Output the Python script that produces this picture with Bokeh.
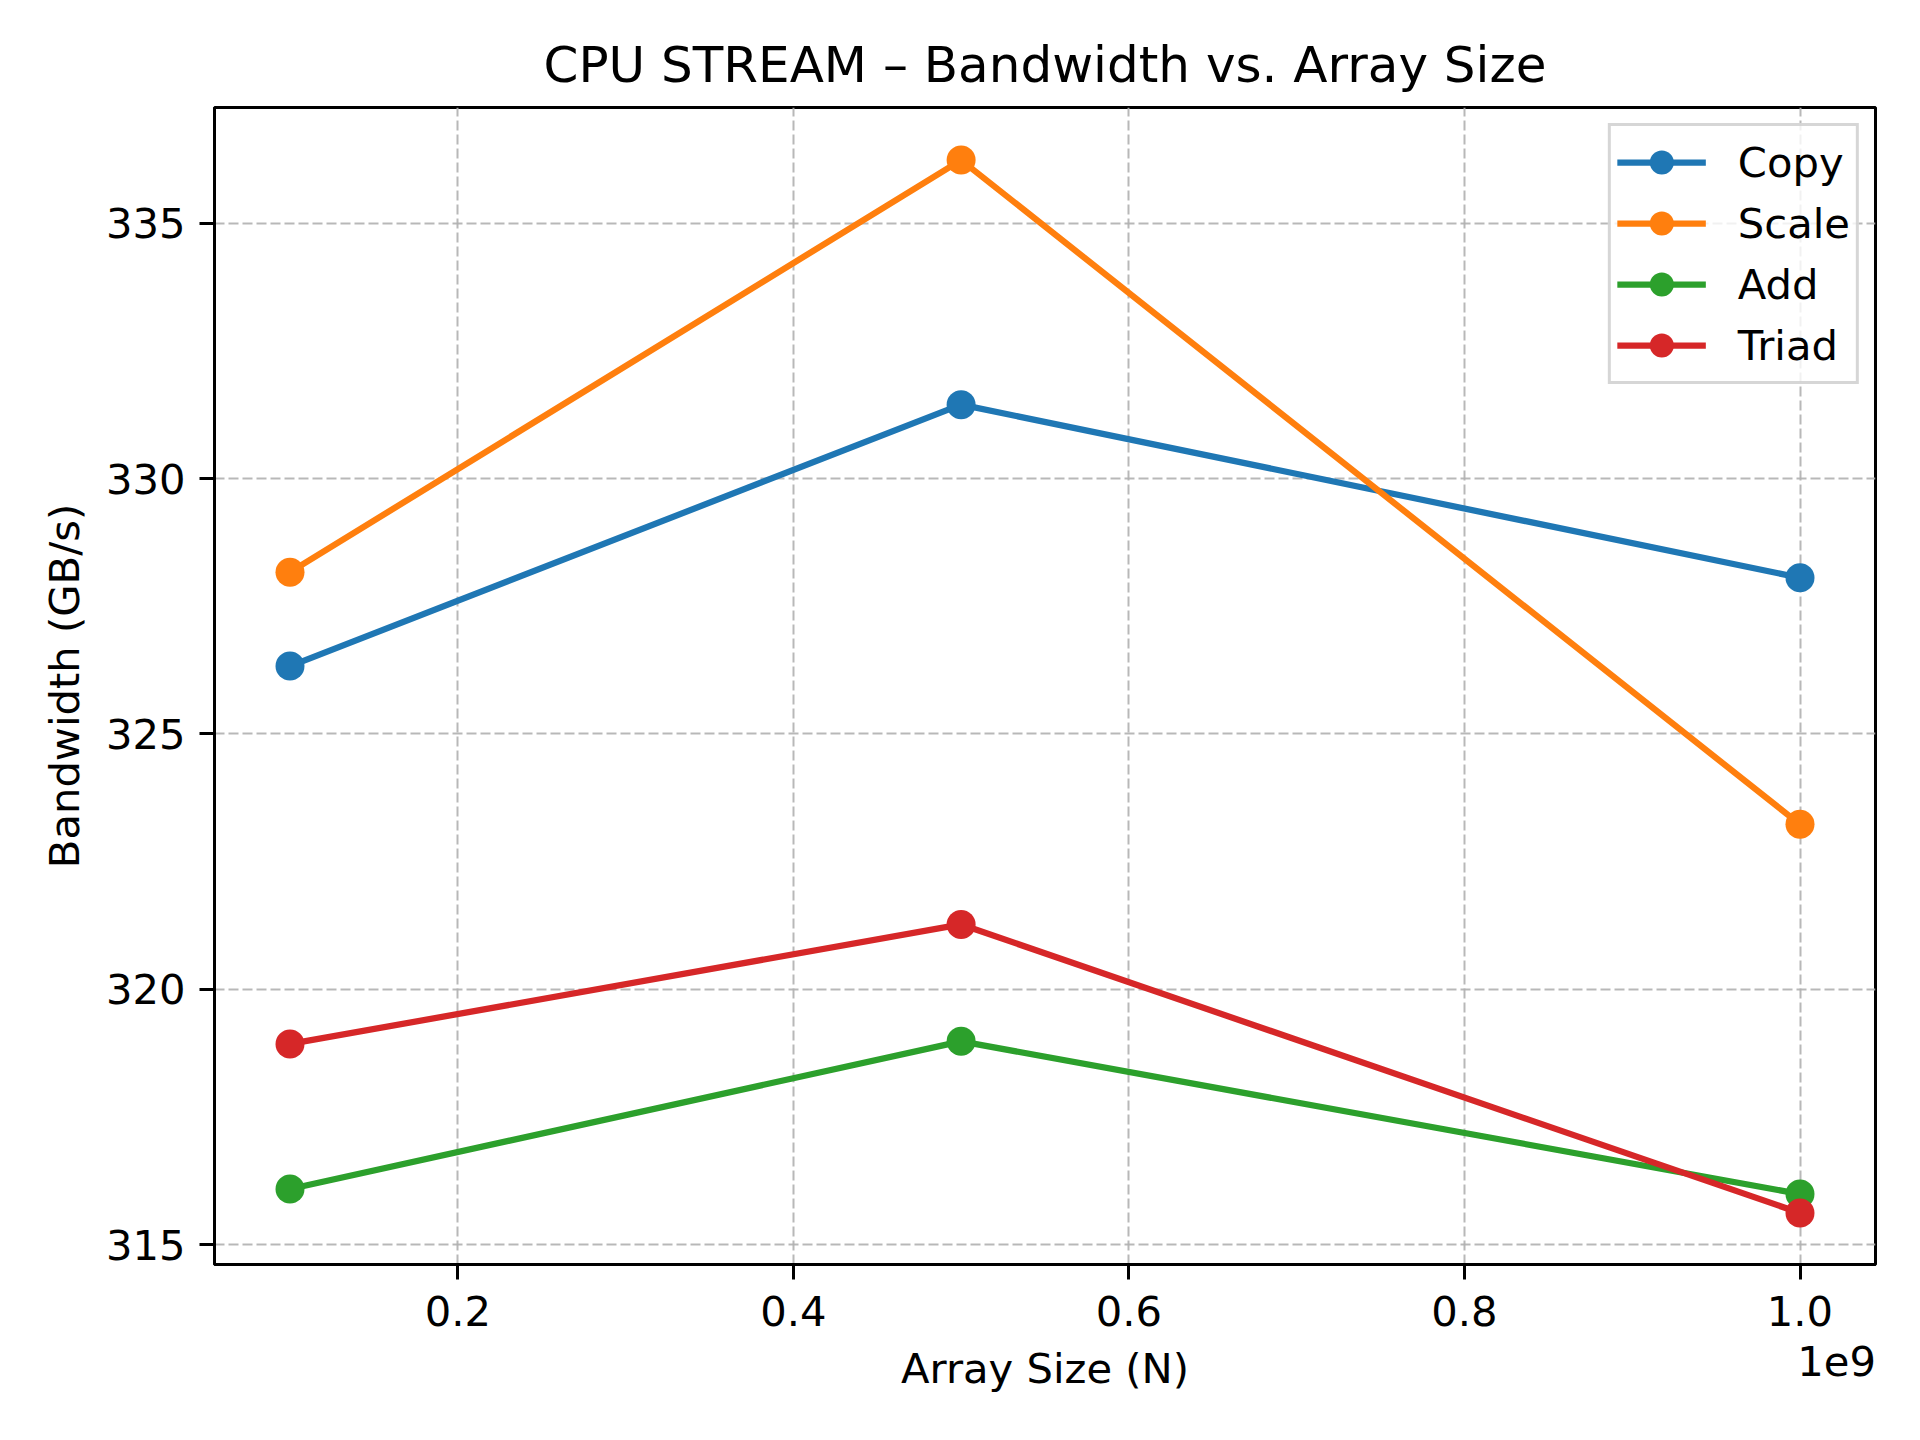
from bokeh.plotting import figure
from bokeh.models import Range1d, FixedTicker, CustomJSTickFormatter, LinearAxis
from bokeh.embed import file_html
from bokeh.resources import INLINE

# ---- data ----
array_sizes = [1e8, 5e8, 1e9]
copy_bw = [326.33, 331.45, 328.06]
scale_bw = [328.17, 336.24, 323.23]
add_bw = [316.09, 318.98, 315.99]
triad_bw = [318.93, 321.27, 315.62]

series_names = ["Copy", "Scale", "Add", "Triad"]
series_values = [copy_bw, scale_bw, add_bw, triad_bw]
series_colors = ["#1f77b4", "#ff7f0e", "#2ca02c", "#d62728"]

x_ticks = [0.2e9, 0.4e9, 0.6e9, 0.8e9, 1.0e9]
y_ticks = [315, 320, 325, 330, 335]
offset_text = "1e9"
offset_pos = 1.0218e9

FONT = "DejaVu Sans"

p = figure(
    width=1904, height=1424,
    output_backend="svg", toolbar_location=None,
    x_range=Range1d(0.055e9, 1.045e9),
    y_range=Range1d(314.61, 337.27),
    min_border_left=214, min_border_right=29,
    min_border_top=107, min_border_bottom=160,
    title="CPU STREAM \u2013 Bandwidth vs. Array Size",
)

p.title.text_font = FONT
p.title.text_font_size = "50px"
p.title.text_font_style = "normal"
p.title.align = "center"
p.title.text_color = "black"
p.title.standoff = 27

for name, vals, col in zip(series_names, series_values, series_colors):
    p.line(array_sizes, vals, line_color=col, line_width=6.25, legend_label=name)
    p.scatter(array_sizes, vals, size=29, fill_color=col, line_color=col,
              line_width=0, legend_label=name)

# axes
p.xaxis.ticker = FixedTicker(ticks=x_ticks)
p.yaxis.ticker = FixedTicker(ticks=y_ticks)
p.xaxis.formatter = CustomJSTickFormatter(code="return (tick/1e9).toFixed(1);")

for ax in (p.xaxis, p.yaxis):
    ax.axis_line_color = "black"
    ax.axis_line_width = 3
    ax.major_tick_line_color = "black"
    ax.major_tick_line_width = 3
    ax.major_tick_out = 15
    ax.major_tick_in = 0
    ax.minor_tick_line_color = None
    ax.major_label_text_font = FONT
    ax.major_label_text_font_size = "41.7px"
    ax.major_label_text_color = "black"
    ax.axis_label_text_font = FONT
    ax.axis_label_text_font_size = "41.7px"
    ax.axis_label_text_font_style = "normal"
    ax.axis_label_text_color = "black"

p.xaxis.major_label_standoff = 16
p.yaxis.major_label_standoff = 14
p.xaxis.axis_label = "Array Size (N)"
p.yaxis.axis_label = "Bandwidth (GB/s)"
p.xaxis.axis_label_standoff = 15
p.yaxis.axis_label_standoff = 14

# offset text ("1e9") as a label-only secondary axis
off_axis = LinearAxis(
    ticker=FixedTicker(ticks=[offset_pos]),
    major_label_overrides={offset_pos: offset_text},
    axis_line_color=None, major_tick_line_color=None, minor_tick_line_color=None,
    major_tick_out=0, major_tick_in=0,
    major_label_standoff=-50,
    major_label_text_font=FONT, major_label_text_font_size="41.7px",
    major_label_text_color="black",
)
p.add_layout(off_axis, "below")

p.outline_line_color = "black"
p.outline_line_width = 3
p.outline_line_alpha = 1.0

# grid
p.grid.grid_line_color = "#b0b0b0"
p.grid.grid_line_alpha = 0.9
p.grid.grid_line_width = 2
p.grid.grid_line_dash = "10 4"
p.xgrid.ticker = FixedTicker(ticks=x_ticks)

# legend
lg = p.legend[0]
lg.location = "top_right"
lg.margin = 16
lg.padding = 6
lg.spacing = 1
lg.glyph_width = 89
lg.glyph_height = 60
lg.label_height = 40
lg.label_standoff = 32
lg.label_text_font = FONT
lg.label_text_font_size = "41.7px"
lg.label_text_color = "black"
lg.label_text_baseline = "middle"
lg.border_line_color = "#cccccc"
lg.border_line_width = 3
lg.border_line_alpha = 0.8
lg.background_fill_color = "white"
lg.background_fill_alpha = 0.8

p.background_fill_color = "white"
p.border_fill_color = "white"

open("out.html", "w").write(file_html(p, INLINE))
